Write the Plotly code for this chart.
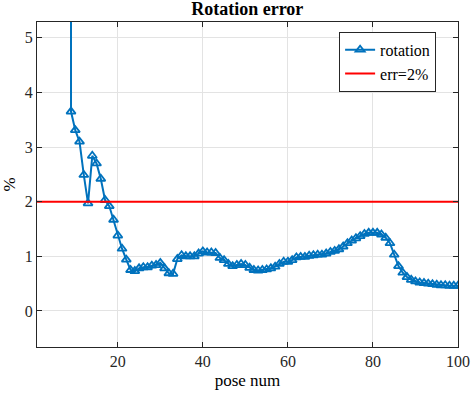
import plotly.graph_objects as go

# pose index and rotation error (%)
pose_num = list(range(8, 101))
rotation = [300.0,
    3.65, 3.31, 3.10, 2.49, 1.97, 2.84, 2.70, 2.42, 2.03, 1.92,
    1.67, 1.38, 1.14, 0.94, 0.75, 0.73, 0.78, 0.80, 0.80, 0.83,
    0.84, 0.88, 0.78, 0.69, 0.68, 0.95, 1.02, 1.00, 1.00, 1.00,
    1.05, 1.09, 1.07, 1.07, 1.06, 0.97, 0.93, 0.86, 0.82, 0.84,
    0.86, 0.84, 0.79, 0.75, 0.74, 0.75, 0.76, 0.78, 0.81, 0.86,
    0.90, 0.90, 0.93, 0.98, 0.99, 0.99, 1.01, 1.02, 1.03, 1.03,
    1.05, 1.08, 1.10, 1.13, 1.18, 1.24, 1.29, 1.33, 1.37, 1.41,
    1.43, 1.43, 1.43, 1.40, 1.34, 1.24, 1.03, 0.82, 0.70, 0.62,
    0.57, 0.54, 0.52, 0.51, 0.50, 0.49, 0.48, 0.47, 0.47, 0.46,
    0.46, 0.46]
thr_x = [1, 100]
thr_y = [2, 2]
x_ticks = [20, 40, 60, 80, 100]
y_ticks = [0, 1, 2, 3, 4, 5]

FONT = "Liberation Serif, Times New Roman, serif"
BLUE = "#0072BD"
AX = "#262626"
GRID = "#e3e3e3"

fig = go.Figure()
fig.add_trace(go.Scatter(
    x=pose_num, y=rotation, mode="lines+markers", name="rotation",
    line=dict(color=BLUE, width=2),
    marker=dict(symbol="triangle-up-open", size=8, color=BLUE, line=dict(width=1.8, color=BLUE)),
))
fig.add_trace(go.Scatter(
    x=thr_x, y=thr_y, mode="lines", name="err=2%",
    line=dict(color="#FF0000", width=2),
))

fig.update_layout(
    width=471, height=399,
    margin=dict(l=37, r=13, t=22, b=52, autoexpand=False),
    paper_bgcolor="white", plot_bgcolor="white",
    font=dict(family=FONT, size=15, color=AX),
    title=dict(text="<b>Rotation error</b>", x=0.525, xanchor="center",
               yref="container", y=0.993, yanchor="top",
               font=dict(family=FONT, size=18, color="black")),
    showlegend=True,
    legend=dict(x=0.948, y=0.97, xanchor="right", yanchor="top",
                bgcolor="white", bordercolor=AX, borderwidth=1,
                font=dict(family=FONT, size=16, color="black"),
                tracegroupgap=0, itemwidth=30),
    xaxis=dict(range=[1, 100], tickvals=x_ticks, ticks="inside", ticklen=5,
               tickcolor=AX, showline=True, linecolor=AX, linewidth=1, mirror="ticks",
               showgrid=True, gridcolor=GRID, gridwidth=1, zeroline=False, automargin=False,
               title=dict(text="pose num", standoff=4, font=dict(family=FONT, size=17, color="black")),
               tickfont=dict(family=FONT, size=16, color=AX)),
    yaxis=dict(range=[-0.66, 5.29], tickvals=y_ticks, ticks="inside", ticklen=5,
               tickcolor=AX, showline=True, linecolor=AX, linewidth=1, mirror="ticks",
               showgrid=True, gridcolor=GRID, gridwidth=1, zeroline=False, automargin=False,
               title=dict(text="%", standoff=4, font=dict(family=FONT, size=17, color="black")),
               tickfont=dict(family=FONT, size=16, color=AX)),
)

fig.write_html("out.html", config={"displayModeBar": False},
               post_script="document.body.style.margin='0';")
